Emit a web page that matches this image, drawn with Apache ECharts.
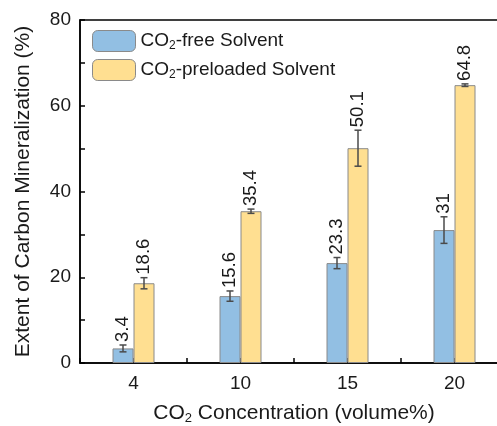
<!DOCTYPE html>
<html>
<head>
<meta charset="utf-8">
<script src="https://cdn.jsdelivr.net/npm/echarts@6/dist/echarts.min.js"></script>
<style>html,body{margin:0;padding:0;background:#fff;}#c{width:497px;height:426px;}</style>
</head>
<body>
<div id="c"></div>
<script>
const categories = ['4', '10', '15', '20'];
const freeValues = [3.4, 15.6, 23.3, 31];
const freeErrors = [0.8, 1.2, 1.3, 3.1];
const preValues = [18.6, 35.4, 50.1, 64.8];
const preErrors = [1.3, 0.5, 4.2, 0.3];
const yTicks = [0, 20, 40, 60, 80];

const BAR_W = 21;
const FONT = 'Arial, "Liberation Sans", sans-serif';
const TXT = '#1a1a1a';

const chart = echarts.init(document.getElementById('c'), null, {renderer: 'canvas'});

function errSeries(name, values, errors, offset) {
  return {
    type: 'custom',
    name: name + '_err',
    xAxisIndex: 0,
    yAxisIndex: 0,
    z: 10,
    clip: false,
    silent: true,
    data: values.map((v, i) => [i, v, errors[i]]),
    renderItem: function (params, api) {
      const i = api.value(0), v = api.value(1), e = api.value(2);
      const x = api.coord([i, v])[0] + offset;
      const yt = api.coord([i, v + e])[1];
      const yb = api.coord([i, v - e])[1];
      const cap = 3.5;
      const ls = {stroke: '#4a4a4a', lineWidth: 1.5};
      return {
        type: 'group',
        children: [
          {type: 'line', shape: {x1: x, y1: yt, x2: x, y2: yb}, style: ls},
          {type: 'line', shape: {x1: x - cap, y1: yt, x2: x + cap, y2: yt}, style: ls},
          {type: 'line', shape: {x1: x - cap, y1: yb, x2: x + cap, y2: yb}, style: ls},
          {type: 'text', x: x, y: yt - 3, rotation: Math.PI / 2,
           style: {text: String(values[i]), fill: TXT, font: '18.5px ' + FONT, align: 'left', verticalAlign: 'middle'}}
        ]
      };
    }
  };
}

chart.setOption({
  animation: false,
  backgroundColor: '#fff',
  grid: {left: 80, top: 20, right: -11, bottom: 63, show: true, borderColor: '#000', borderWidth: 1.5, backgroundColor: 'transparent', containLabel: false, outerBoundsMode: 'none'},
  legend: {
    orient: 'vertical', left: 92, top: 30, padding: 0, itemWidth: 43, itemHeight: 21, itemGap: 7,
    data: ['CO2-free Solvent', 'CO2-preloaded Solvent'],
    formatter: function (n) { return n.replace('CO2', 'CO{sub|2}'); },
    textStyle: {fontSize: 19, fontFamily: FONT, color: TXT, rich: {sub: {fontSize: 12, padding: [9, 0, 0, 0], fontFamily: FONT, color: TXT}}},
    itemStyle: {borderColor: '#8a8a8a', borderWidth: 1}
  },
  xAxis: [{
    type: 'category', data: categories, position: 'bottom',
    axisLine: {lineStyle: {color: '#000', width: 1.5}},
    axisTick: {show: true, inside: true, alignWithLabel: true, length: 5, lineStyle: {color: '#000', width: 1.5}},
    axisLabel: {fontSize: 19, fontFamily: FONT, color: TXT, margin: 11},
    name: 'CO{sub|2} Concentration (volume%)', nameLocation: 'middle', nameGap: 38,
    nameTextStyle: {fontSize: 21, fontFamily: FONT, color: TXT, rich: {sub: {fontSize: 13, padding: [11, 0, 0, 0], fontFamily: FONT, color: TXT}}},
    splitLine: {show: false}
  }, {
    type: 'category', data: categories, position: 'bottom',
    axisLine: {show: false},
    axisTick: {show: true, inside: true, alignWithLabel: false, length: 5, lineStyle: {color: '#000', width: 1.5}},
    axisLabel: {show: false}, splitLine: {show: false}
  }],
  yAxis: {
    type: 'value', min: yTicks[0], max: yTicks[yTicks.length - 1], interval: 20,
    axisLine: {show: true, lineStyle: {color: '#000', width: 1.5}},
    axisTick: {show: true, inside: true, length: 5, lineStyle: {color: '#000', width: 1.5}},
    minorTick: {show: true, splitNumber: 2, length: 5, lineStyle: {color: '#000', width: 1.5}},
    axisLabel: {fontSize: 19, fontFamily: FONT, color: TXT, margin: 9},
    splitLine: {show: false},
    name: 'Extent of Carbon Mineralization (%)', nameLocation: 'middle', nameGap: 46, nameRotate: 90,
    nameTextStyle: {fontSize: 21, fontFamily: FONT, color: TXT}
  },
  series: [{
    name: 'CO2-free Solvent', type: 'bar', data: freeValues, barWidth: BAR_W, barGap: '0%',
    itemStyle: {color: '#92bfe3', borderColor: '#8a8a8a', borderWidth: 1}
  }, {
    name: 'CO2-preloaded Solvent', type: 'bar', data: preValues, barWidth: BAR_W, barGap: '0%',
    itemStyle: {color: '#ffdf91', borderColor: '#8a8a8a', borderWidth: 1}
  },
    errSeries('free', freeValues, freeErrors, -BAR_W / 2),
    errSeries('pre', preValues, preErrors, BAR_W / 2)
  ]
});
</script>
</body>
</html>
